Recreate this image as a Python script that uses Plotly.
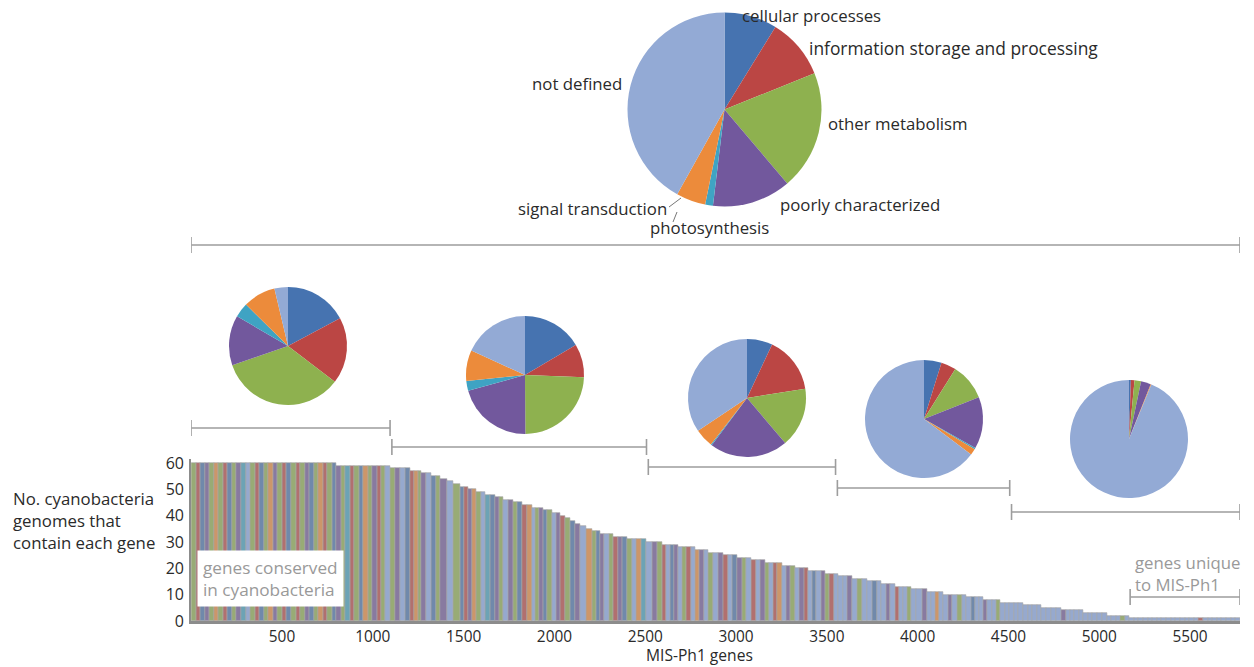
import plotly.graph_objects as go

W, H = 1254, 667

# ---------------- data ----------------
categories = ["cellular processes", "information storage and processing", "other metabolism",
              "poorly characterized", "photosynthesis", "signal transduction", "not defined"]
cat_colors = ["#4673B0", "#BB4644", "#8EB14F", "#72589D", "#3FA3C3", "#EC8B3B", "#93AAD5"]

# overall pie (% of genes)
all_pct = [8.8, 10.1, 19.9, 13.1, 1.3, 4.9, 41.9]
# pies for each conservation range (left to right)
region_pct = [
    [17.2, 18.2, 34.3, 13.7, 4.0, 8.9, 3.7],
    [16.5, 9.1, 24.3, 20.8, 2.7, 8.4, 18.2],
    [7.0, 15.5, 16.3, 21.4, 0.3, 5.1, 34.4],
    [4.8, 4.1, 10.1, 14.2, 0.4, 1.7, 64.7],
    [0.5, 1.0, 1.8, 2.7, 0.0, 0.2, 93.8],
]
# gene-index edges of the five ranges
region_edges = [0, 1100, 2512, 3553, 4512, 5775]
unique_range = [5170, 5775]

# number of genomes containing each gene (staircase): value and last gene index of each step
step_values = list(range(60, 0, -1))
step_ends = [801, 1095, 1205, 1269, 1324, 1370, 1407, 1443, 1480, 1524,
             1572, 1618, 1673, 1719, 1774, 1820, 1875, 1939, 1985, 2031,
             2058, 2086, 2113, 2141, 2174, 2207, 2251, 2324, 2398, 2508,
             2591, 2682, 2774, 2847, 2930, 3004, 3086, 3160, 3252, 3325,
             3398, 3490, 3563, 3637, 3720, 3802, 3876, 3967, 4050, 4141,
             4270, 4362, 4454, 4582, 4683, 4793, 4912, 5041, 5166, 5775]

x_ticks = [500, 1000, 1500, 2000, 2500, 3000, 3500, 4000, 4500, 5000, 5500]
y_ticks = [0, 10, 20, 30, 40, 50, 60]

# ---------------- helpers ----------------
def mix(c1, c2, t):
    a = [int(c1[i:i + 2], 16) for i in (1, 3, 5)]
    b = [int(c2[i:i + 2], 16) for i in (1, 3, 5)]
    return "#" + "".join(f"{round(a[i] * (1 - t) + b[i] * t):02x}" for i in range(3))

bar_colors = [mix(c, "#a4a4a4", 0.45) for c in cat_colors]
bar_colors[6] = mix(cat_colors[6], "#a4a4a4", 0.15)

def px_x(p):
    return p / W

def px_y(p):
    return 1 - p / H

TXT = "#2a2a2a"
FONT = "Open Sans"

# ---------------- stripes of the bar chart ----------------
STRIPE = 25
xs = [[] for _ in categories]
ys = [[] for _ in categories]
ws = [[] for _ in categories]
counts = [[0] * len(categories) for _ in region_pct]
totals = [0] * len(region_pct)
start = 0
for v, end in zip(step_values, step_ends):
    width = end - start
    n = max(1, round(width / STRIPE))
    sw = width / n
    for k in range(n):
        xm = start + (k + 0.5) * sw
        r = 0
        while r < len(region_pct) - 1 and xm >= region_edges[r + 1]:
            r += 1
        fr = region_pct[r]
        tot = sum(fr)
        best = max(range(len(categories)),
                   key=lambda c: fr[c] / tot * (totals[r] + 1) - counts[r][c])
        counts[r][best] += 1
        totals[r] += 1
        xs[best].append(xm)
        ys[best].append(v)
        ws[best].append(sw)
    start = end

fig = go.Figure()
for c in range(len(categories)):
    fig.add_trace(go.Bar(
        x=xs[c], y=ys[c], width=ws[c], name=categories[c],
        marker=dict(color=bar_colors[c], line=dict(color="#a2a2a2", width=0.6)),
        showlegend=False, hoverinfo="skip"))

# ---------------- pies ----------------
def add_pie(vals, cx, cy, r):
    fig.add_trace(go.Pie(
        values=vals, labels=categories, sort=False, direction="clockwise", rotation=0,
        marker=dict(colors=cat_colors, line=dict(width=0)),
        textinfo="none", hoverinfo="label+percent", showlegend=False, automargin=False,
        domain=dict(x=[px_x(cx - r), px_x(cx + r)], y=[px_y(cy + r), px_y(cy - r)])))

add_pie(all_pct, 724.5, 109.5, 97)
pie_centers = [(288, 346), (525, 375), (747, 398), (924, 419), (1129, 439)]
for vals, (cx, cy) in zip(region_pct, pie_centers):
    add_pie(vals, cx, cy, 59)

# ---------------- brackets ----------------
shapes = []
BR = "#9d9d9d"

def bracket(x0, x1, ypx, half=8):
    y = px_y(ypx)
    shapes.append(dict(type="line", xref="x", yref="paper", x0=x0, x1=x1, y0=y, y1=y,
                       line=dict(color=BR, width=1.6)))
    for xx in (x0, x1):
        shapes.append(dict(type="line", xref="x", yref="paper", x0=xx, x1=xx,
                           y0=px_y(ypx - half), y1=px_y(ypx + half),
                           line=dict(color=BR, width=1.6)))

bracket(region_edges[0], region_edges[-1], 245)
bracket_y = [428, 447, 467, 488, 512]
gap = 5
for i in range(5):
    a = region_edges[i] + (gap if i > 0 else 0)
    b = region_edges[i + 1] - (gap if i < 4 else 0)
    bracket(a, b, bracket_y[i])
bracket(unique_range[0], unique_range[1], 597)

# leader lines for small slices of the overall pie
for (xa, ya, xb, yb) in [(669, 207, 681, 198), (673, 222, 677, 212)]:
    shapes.append(dict(type="line", xref="paper", yref="paper",
                       x0=px_x(xa), y0=px_y(ya), x1=px_x(xb), y1=px_y(yb),
                       line=dict(color="#777777", width=1)))

# ---------------- annotations ----------------
ann = []

def label(text, xpx, ypx, size=16.8, color=TXT, anchor="left", **kw):
    ann.append(dict(text=text, x=px_x(xpx), y=px_y(ypx), xref="paper", yref="paper",
                    xanchor=anchor, yanchor="middle", showarrow=False,
                    font=dict(family=FONT, size=size, color=color), **kw))

label("cellular processes", 740, 16)
label("information storage and processing", 807, 48, size=17.4)
label("not defined", 530, 84)
label("other metabolism", 826, 123)
label("poorly characterized", 778, 204)
label("signal transduction", 516, 209)
label("photosynthesis", 648, 227)

label("No. cyanobacteria<br>genomes that<br>contain each gene", 11, 520, size=16.8, align="left")
ann.append(dict(text="MIS-Ph1 genes", x=px_x(699), y=0, xref="paper", yref="paper",
                xanchor="center", yanchor="bottom", showarrow=False, borderpad=0,
                font=dict(family=FONT, size=15.6, color=TXT)))

ann.append(dict(text="genes conserved<br>in cyanobacteria", x=px_x(197), y=px_y(578),
                xref="paper", yref="paper", xanchor="left", yanchor="middle", showarrow=False,
                align="left", bgcolor="white", borderpad=5,
                font=dict(family=FONT, size=17.2, color="#999999")))
label("genes unique<br>to MIS-Ph1", 1133, 573, size=16.8, color="#999999", align="left")

fig.update_layout(
    width=W, height=H, margin=dict(l=0, r=0, t=0, b=0, pad=0, autoexpand=False),
    paper_bgcolor="white", plot_bgcolor="white",
    barmode="overlay", bargap=0,
    shapes=shapes, annotations=ann,
    font=dict(family=FONT, color=TXT),
    xaxis=dict(domain=[191.2 / W, 1240 / W], range=[0, 5775], automargin=False,
               showline=True, linecolor="#8c8c8c", linewidth=3,
               tickvals=x_ticks, ticks="", ticklabelstandoff=0,
               tickfont=dict(family=FONT, size=15.4, color=TXT),
               showgrid=False, zeroline=False),
    yaxis=dict(domain=[(H - 621) / H, (H - 459) / H], range=[0, 61.5], automargin=False,
               showline=True, linecolor="#8c8c8c", linewidth=2,
               tickvals=y_ticks, ticks="", ticklabelstandoff=2,
               tickfont=dict(family=FONT, size=16, color=TXT),
               showgrid=False, zeroline=False),
)

fig.write_html("out.html", post_script="document.body.style.margin='0px';",
               config={"displayModeBar": False})
